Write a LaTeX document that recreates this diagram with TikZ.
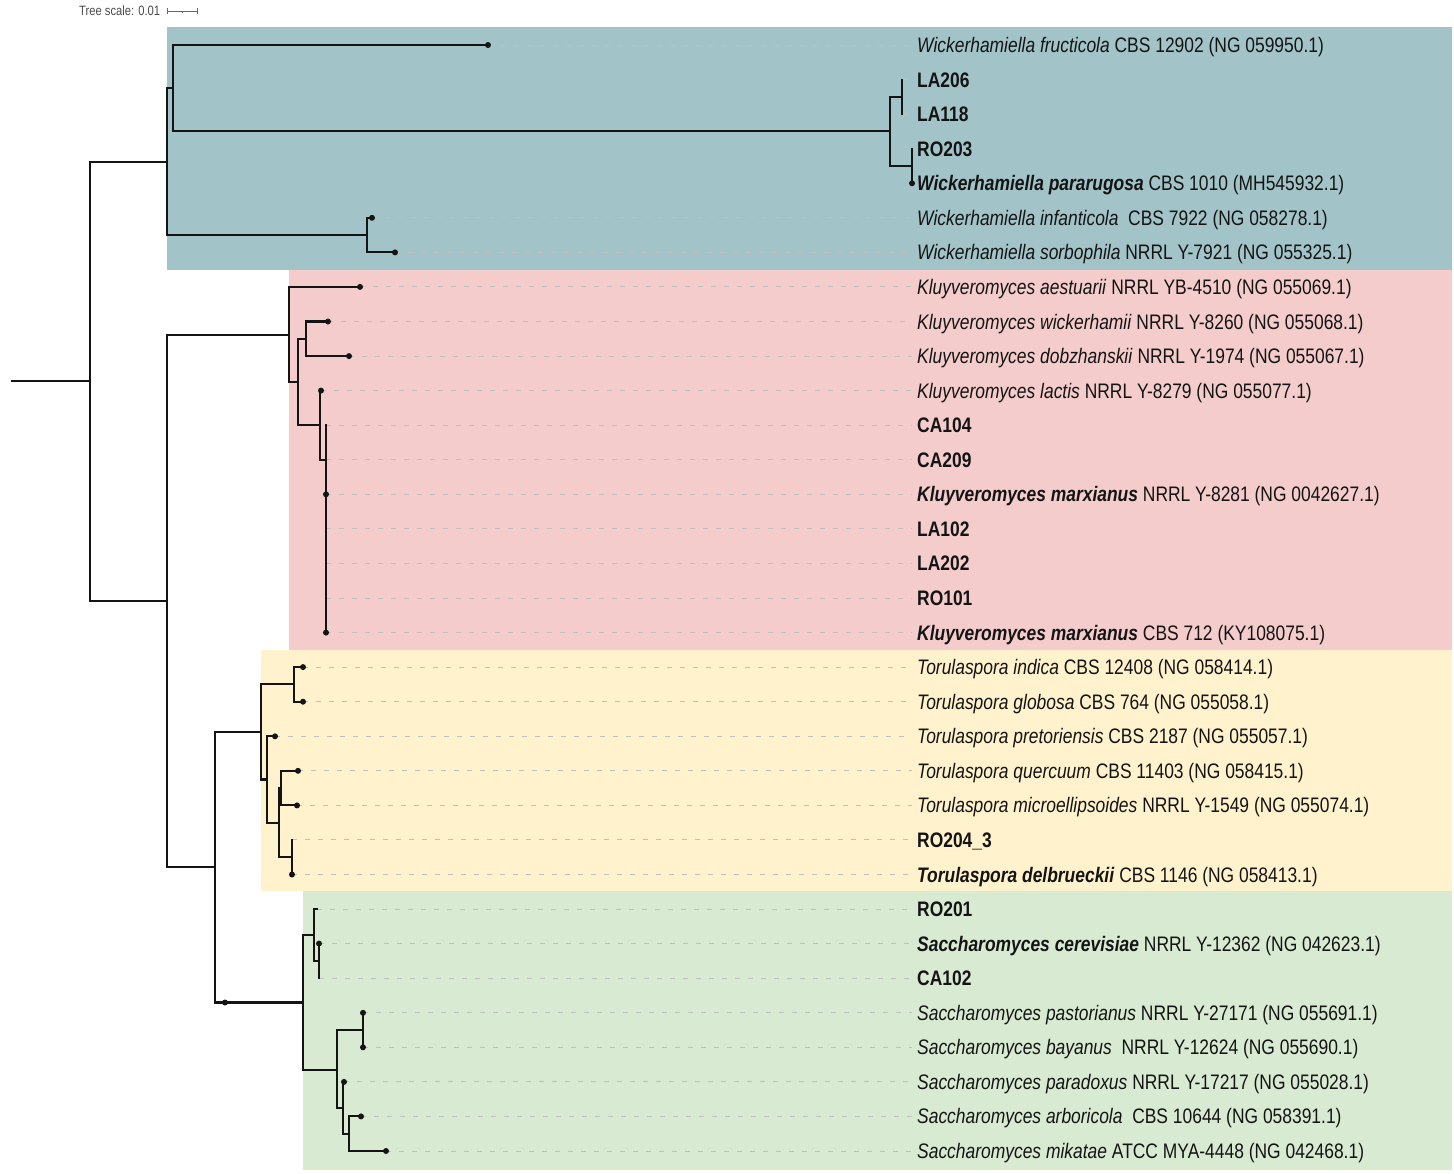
\documentclass[tikz,border=0pt]{standalone}
\usepackage{fontspec}
\setmainfont{Liberation Sans}[FakeStretch=0.83]
\usetikzlibrary{calc}
\begin{document}
\begin{tikzpicture}[x=1pt,y=-1pt,
  br/.style={line width=2.1pt,line cap=rect,draw=black!92},
  leader/.style={draw=black!25,line width=0.9pt,dash pattern=on 5pt off 8pt},
  lab/.style={inner sep=0pt,anchor=base west,text=black!92,font=\fontsize{21}{25}\selectfont},
  tipdot/.style={fill=black!92}]
\definecolor{cblue}{HTML}{A2C4C9}
\definecolor{cpink}{HTML}{F4CCCC}
\definecolor{cyell}{HTML}{FFF2CC}
\definecolor{cgreen}{HTML}{D9EAD3}
\useasboundingbox (0,0) rectangle (1454,1173);
\fill[white] (0,0) rectangle (1454,1173);
% clade backgrounds
\fill[cblue]  (167,27)  rectangle (1452,270);
\fill[cpink]  (289,270) rectangle (1452,650);
\fill[cyell]  (261,650) rectangle (1452,891);
\fill[cgreen] (303,891) rectangle (1452,1170);
% tree scale
\node[inner sep=0pt,anchor=west,text=black!70,font=\fontsize{13.5}{15}\selectfont] (scale) at (79,11) {Tree scale: 0.01};
\coordinate (sb1) at (167,11);
\coordinate (sb2) at (197,11);
\coordinate (sbm) at ($(sb1)!0.5!(sb2)$);
\draw[black!60,line width=0.8pt] (sb1) -- (sb2);
\draw[black!60,line width=0.8pt] ([yshift=3pt]sb1) -- ([yshift=-3pt]sb1);
\draw[black!60,line width=0.8pt] ([yshift=3pt]sb2) -- ([yshift=-3pt]sb2);
\draw[black!60,line width=0.6pt] (sbm) -- ([yshift=-2pt]sbm);
% leaves
\newcommand\lf[4]{%
  \coordinate (#1) at (#2,#3);
  \node[lab] (L#1) at (917,#3+7.5) {#4};
  \draw[leader] (#1) -- ([xshift=-5pt]L#1.west |- #1);
}
\lf{t1}{488}{45.0}{\textit{Wickerhamiella fructicola} CBS 12902 (NG 059950.1)}
\lf{t2}{902}{79.6}{\textbf{LA206}}
\lf{t3}{902}{114.1}{\textbf{LA118}}
\lf{t4}{912}{148.7}{\textbf{RO203}}
\lf{t5}{912}{183.3}{\textbf{\textit{Wickerhamiella pararugosa}} CBS 1010 (MH545932.1)}
\lf{t6}{372}{217.8}{\textit{Wickerhamiella infanticola}\ \ CBS 7922 (NG 058278.1)}
\lf{t7}{395}{252.4}{\textit{Wickerhamiella sorbophila} NRRL Y-7921 (NG 055325.1)}
\lf{t8}{360}{286.9}{\textit{Kluyveromyces aestuarii} NRRL YB-4510 (NG 055069.1)}
\lf{t9}{328}{321.5}{\textit{Kluyveromyces wickerhamii} NRRL Y-8260 (NG 055068.1)}
\lf{t10}{349}{356.1}{\textit{Kluyveromyces dobzhanskii} NRRL Y-1974 (NG 055067.1)}
\lf{t11}{321}{390.6}{\textit{Kluyveromyces lactis} NRRL Y-8279 (NG 055077.1)}
\lf{t12}{326}{425.2}{\textbf{CA104}}
\lf{t13}{326}{459.8}{\textbf{CA209}}
\lf{t14}{326}{494.3}{\textbf{\textit{Kluyveromyces marxianus}} NRRL Y-8281 (NG 0042627.1)}
\lf{t15}{326}{528.9}{\textbf{LA102}}
\lf{t16}{326}{563.4}{\textbf{LA202}}
\lf{t17}{326}{598.0}{\textbf{RO101}}
\lf{t18}{326}{632.6}{\textbf{\textit{Kluyveromyces marxianus}} CBS 712 (KY108075.1)}
\lf{t19}{303}{667.1}{\textit{Torulaspora indica} CBS 12408 (NG 058414.1)}
\lf{t20}{303}{701.7}{\textit{Torulaspora globosa} CBS 764 (NG 055058.1)}
\lf{t21}{275}{736.3}{\textit{Torulaspora pretoriensis} CBS 2187 (NG 055057.1)}
\lf{t22}{298}{770.8}{\textit{Torulaspora quercuum} CBS 11403 (NG 058415.1)}
\lf{t23}{297}{805.4}{\textit{Torulaspora microellipsoides} NRRL Y-1549 (NG 055074.1)}
\lf{t24}{292}{839.9}{\textbf{RO204\_3}}
\lf{t25}{292}{874.5}{\textbf{\textit{Torulaspora delbrueckii}} CBS 1146 (NG 058413.1)}
\lf{t26}{317}{909.1}{\textbf{RO201}}
\lf{t27}{319}{943.6}{\textbf{\textit{Saccharomyces cerevisiae}} NRRL Y-12362 (NG 042623.1)}
\lf{t28}{319}{978.2}{\textbf{CA102}}
\lf{t29}{363}{1012.8}{\textit{Saccharomyces pastorianus} NRRL Y-27171 (NG 055691.1)}
\lf{t30}{363}{1047.3}{\textit{Saccharomyces bayanus}\ \ NRRL Y-12624 (NG 055690.1)}
\lf{t31}{344}{1081.9}{\textit{Saccharomyces paradoxus} NRRL Y-17217 (NG 055028.1)}
\lf{t32}{361}{1116.4}{\textit{Saccharomyces arboricola}\ \ CBS 10644 (NG 058391.1)}
\lf{t33}{386}{1151.0}{\textit{Saccharomyces mikatae} ATCC MYA-4448 (NG 042468.1)}
% internal nodes
\coordinate (root) at (12,381.4);
\coordinate (r0) at (90,381.4);
\coordinate (nW) at (167,161.7);
\coordinate (nW1) at (173,88.2);
\coordinate (nW2) at (890,131.4);
\coordinate (nW3) at (902,96.9);
\coordinate (nW4) at (912,166.0);
\coordinate (nW5) at (367,235.1);
\coordinate (nB) at (167,601.1);
\coordinate (nK) at (289,335.0);
\coordinate (nK1) at (298,382.0);
\coordinate (nK2) at (306,338.8);
\coordinate (nK3) at (320,425.3);
\coordinate (nK4) at (326,459.8);
\coordinate (nTS) at (215,867.3);
\coordinate (nT) at (261,732.0);
\coordinate (nT1) at (294,684.4);
\coordinate (nT2) at (267,779.5);
\coordinate (nT3) at (279,822.7);
\coordinate (nT4) at (281,788.1);
\coordinate (nT5) at (292,857.2);
\coordinate (nS) at (303,1002.5);
\coordinate (nS1) at (314,935.0);
\coordinate (nS3) at (319,960.9);
\coordinate (nS2) at (337,1070.0);
\coordinate (nS4) at (363,1030.0);
\coordinate (nS5) at (343,1107.8);
\coordinate (nS6) at (349,1133.7);
\coordinate (sdot) at (225,1002.5);
% branches
\draw[br] (root) -- (r0);
\foreach \p/\c in {r0/nW, r0/nB,
  nW/nW1, nW/nW5, nW1/t1, nW1/nW2, nW2/nW3, nW2/nW4, nW3/t2, nW3/t3, nW4/t4, nW4/t5,
  nW5/t6, nW5/t7,
  nB/nK, nB/nTS,
  nK/t8, nK/nK1, nK1/nK2, nK1/nK3, nK2/t9, nK2/t10, nK3/t11, nK3/nK4,
  nK4/t12, nK4/t13, nK4/t14, nK4/t15, nK4/t16, nK4/t17, nK4/t18,
  nTS/nT, nTS/nS,
  nT/nT1, nT/nT2, nT1/t19, nT1/t20, nT2/t21, nT2/nT3, nT3/nT4, nT3/nT5,
  nT4/t22, nT4/t23, nT5/t24, nT5/t25,
  nS/nS1, nS/nS2, nS1/t26, nS1/nS3, nS3/t27, nS3/t28,
  nS2/nS4, nS2/nS5, nS4/t29, nS4/t30, nS5/t31, nS5/nS6, nS6/t32, nS6/t33}
  {\draw[br] (\p) |- (\c);}
% tip dots
\foreach \t in {t1,t5,t6,t7,t8,t9,t10,t11,t14,t18,t19,t20,t21,t22,t23,t25,t27,t29,t30,t31,t32,t33,sdot}
  {\fill[tipdot] (\t) circle (3pt);}
\end{tikzpicture}
\end{document}
